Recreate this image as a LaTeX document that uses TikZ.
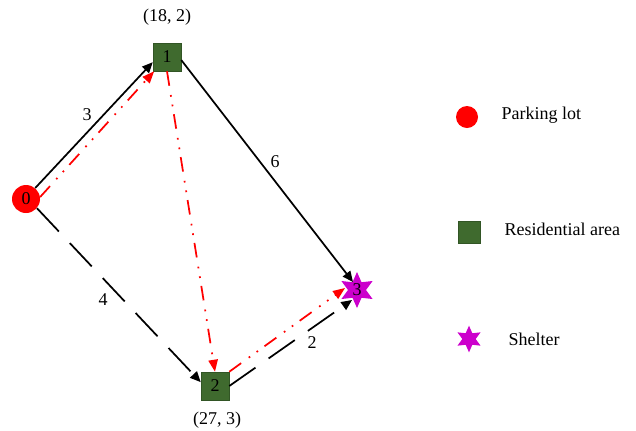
\documentclass[tikz,border=0pt]{standalone}
\usepackage{fontspec}
\setmainfont{Liberation Serif}
\usetikzlibrary{shapes.geometric,arrows.meta,calc}
\definecolor{resgreen}{HTML}{3F6A2E}
\definecolor{shelter}{HTML}{CC00CC}
\begin{document}
\begin{tikzpicture}[x=0.75pt,y=-0.75pt,
  font=\fontsize{13.5}{16}\selectfont,
  park/.style={circle,fill=red,minimum size=21pt,inner sep=0pt},
  res/.style={rectangle,fill=resgreen,draw=resgreen!80!black,minimum size=21pt,inner sep=0pt},
  shel/.style={star,star points=6,star point ratio=2,fill=shelter,minimum size=27pt,inner sep=0pt},
  blk/.style={draw=black,line width=1.3pt,-{Triangle[length=8pt,width=7pt]}},
  longdash/.style={blk,dash pattern=on 24pt off 12pt},
  redpath/.style={draw=red,line width=1.3pt,dash pattern=on 11pt off 7pt on 1.3pt off 6pt on 1.3pt off 6pt,-{Triangle[length=9pt,width=7pt]}},
  lbl/.style={inner sep=1pt}]
\useasboundingbox (0,0) rectangle (636,430);
% nodes
\node[park] (n0) at (26,199) {0};
\node[res] (n1) at (167,57) {1};
\node[res] (n2) at (215,386) {2};
\node[shel] (n3) at (357,290) {3};
\node[lbl] (c1) at (167,17) {(18, 2)};
\node[lbl] (c2) at (217,420) {(27, 3)};
% edges black
\draw[blk] (n0.50) -- (n1.200);
\draw[blk] (n1.348) -- ($(n3)+(-4,-8)$);
\draw[longdash] (n0.-40) -- (n2.165);
\draw[longdash] (n2.east) -- ($(n3)+(-5,10)$);
% edge labels
\node[lbl] (w3) at (87,115) {3};
\node[lbl] (w6) at (275,162) {6};
\node[lbl] (w4) at (103,300) {4};
\node[lbl] (w2) at (312,343) {2};
% red path
\draw[redpath] (n0.8) -- (n1.228);
\draw[redpath] (n1.south) -- (n2.north);
\draw[redpath] (n2.north east) -- ($(n3)+(-12,-2)$);
% legend
\node[park,minimum size=16.5pt] (l0) at (467,117) {};
\node[anchor=west] (t0) at (497,115) {Parking lot};
\node[res,minimum size=16.5pt] (l1) at (469,232) {};
\node[anchor=west] (t1) at (500,229) {Residential area};
\node[shel,minimum size=20pt] (l2) at (469,339) {};
\node[anchor=west] (t2) at (504,339) {Shelter};
\end{tikzpicture}
\end{document}
